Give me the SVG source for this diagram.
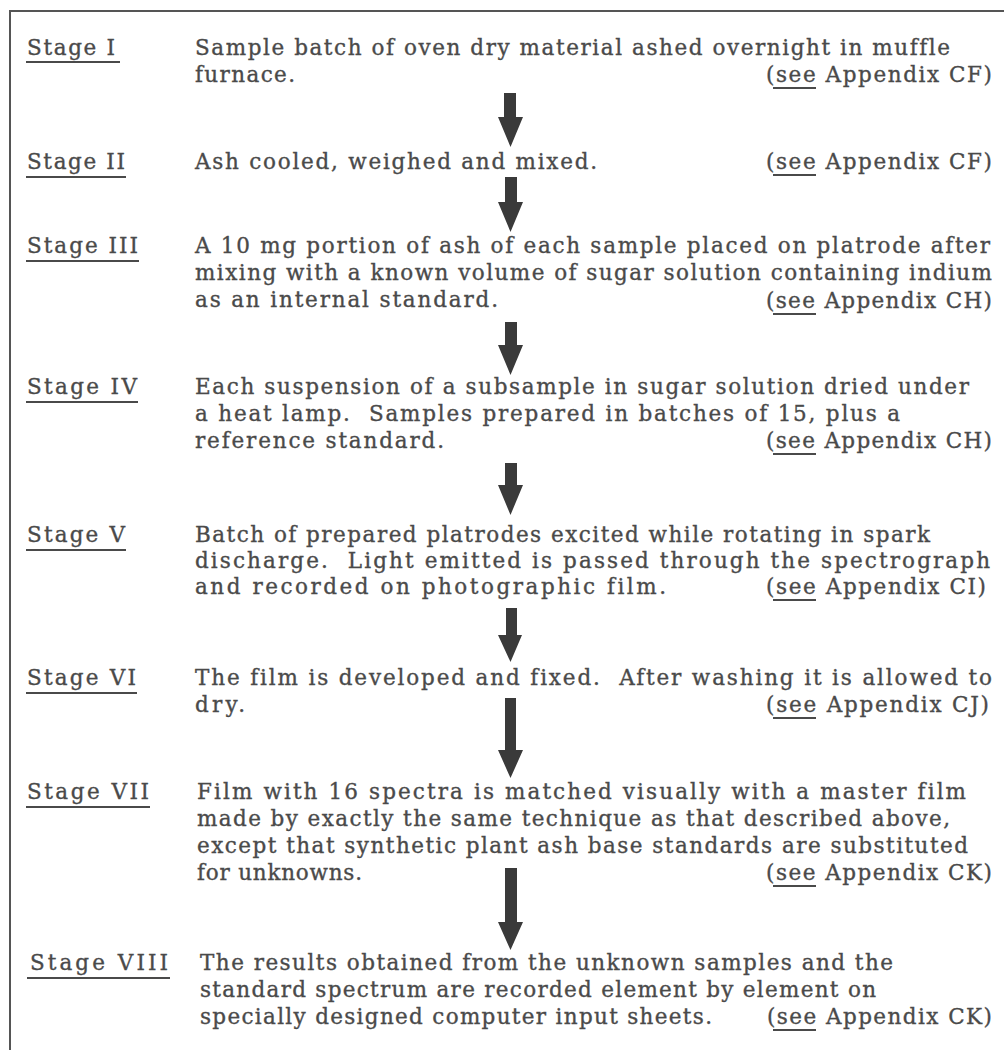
<svg xmlns="http://www.w3.org/2000/svg" width="1004" height="1050" viewBox="0 0 1004 1050">
  <style>
    .t { font-family: "DejaVu Serif", "Liberation Serif", serif; font-size: 21.5px; fill: #4a4a4a; stroke: #4a4a4a; stroke-width: 0.35; font-variant-ligatures: none; white-space: pre; }
    .ul { stroke: #4a4a4a; stroke-width: 2; fill: none; }
    .arrow { fill: #3a3a3a; }
    .frame { stroke: #555; stroke-width: 2; fill: none; }
  </style>

  <rect x="0" y="0" width="1004" height="1050" fill="#ffffff"/>
  <path class="frame" d="M10,1050 V11 H1004"/>

  <!-- Stage I -->
  <g id="stage1">
    <text class="t" x="27" y="55" textLength="88" lengthAdjust="spacing">Stage I</text>
    <line class="ul" x1="26" y1="62" x2="120" y2="62"/>
    <text class="t" x="195" y="55" textLength="755" lengthAdjust="spacing">Sample batch of oven dry material ashed overnight in muffle</text>
    <text class="t" x="195" y="82" textLength="100" lengthAdjust="spacing">furnace.</text>
    <text class="t" x="766" y="82" textLength="226" lengthAdjust="spacing">(see Appendix CF)</text>
    <line class="ul" x1="773" y1="88" x2="816" y2="88"/>
  </g>

  <!-- Stage II -->
  <g id="stage2">
    <text class="t" x="27" y="169" textLength="98" lengthAdjust="spacing">Stage II</text>
    <line class="ul" x1="26" y1="177" x2="126" y2="177"/>
    <text class="t" x="195" y="169" textLength="402" lengthAdjust="spacing">Ash cooled, weighed and mixed.</text>
    <text class="t" x="766" y="169" textLength="226" lengthAdjust="spacing">(see Appendix CF)</text>
    <line class="ul" x1="773" y1="175" x2="816" y2="175"/>
  </g>

  <!-- Stage III -->
  <g id="stage3">
    <text class="t" x="27" y="253" textLength="111" lengthAdjust="spacing">Stage III</text>
    <line class="ul" x1="26" y1="261" x2="139" y2="261"/>
    <text class="t" x="195" y="253" textLength="795" lengthAdjust="spacing">A 10 mg portion of ash of each sample placed on platrode after</text>
    <text class="t" x="195" y="280" textLength="797" lengthAdjust="spacing">mixing with a known volume of sugar solution containing indium</text>
    <text class="t" x="195" y="307" textLength="303" lengthAdjust="spacing">as an internal standard.</text>
    <text class="t" x="766" y="308" textLength="226" lengthAdjust="spacing">(see Appendix CH)</text>
    <line class="ul" x1="773" y1="314" x2="816" y2="314"/>
  </g>

  <!-- Stage IV -->
  <g id="stage4">
    <text class="t" x="27" y="394" textLength="110" lengthAdjust="spacing">Stage IV</text>
    <line class="ul" x1="26" y1="402" x2="138" y2="402"/>
    <text class="t" x="195" y="394" textLength="774" lengthAdjust="spacing">Each suspension of a subsample in sugar solution dried under</text>
    <text class="t" x="195" y="421" textLength="705" lengthAdjust="spacing">a heat lamp.  Samples prepared in batches of 15, plus a</text>
    <text class="t" x="195" y="448" textLength="249" lengthAdjust="spacing">reference standard.</text>
    <text class="t" x="766" y="448" textLength="226" lengthAdjust="spacing">(see Appendix CH)</text>
    <line class="ul" x1="773" y1="454" x2="816" y2="454"/>
  </g>

  <!-- Stage V -->
  <g id="stage5">
    <text class="t" x="27" y="542" textLength="98" lengthAdjust="spacing">Stage V</text>
    <line class="ul" x1="26" y1="550" x2="126" y2="550"/>
    <text class="t" x="195" y="542" textLength="735" lengthAdjust="spacing">Batch of prepared platrodes excited while rotating in spark</text>
    <text class="t" x="195" y="568" textLength="795" lengthAdjust="spacing">discharge.  Light emitted is passed through the spectrograph</text>
    <text class="t" x="195" y="594" textLength="471" lengthAdjust="spacing">and recorded on photographic film.</text>
    <text class="t" x="766" y="594" textLength="220" lengthAdjust="spacing">(see Appendix CI)</text>
    <line class="ul" x1="773" y1="600" x2="816" y2="600"/>
  </g>

  <!-- Stage VI -->
  <g id="stage6">
    <text class="t" x="27" y="685" textLength="109" lengthAdjust="spacing">Stage VI</text>
    <line class="ul" x1="26" y1="693" x2="137" y2="693"/>
    <text class="t" x="195" y="685" textLength="797" lengthAdjust="spacing">The film is developed and fixed.  After washing it is allowed to</text>
    <text class="t" x="195" y="712" textLength="50" lengthAdjust="spacing">dry.</text>
    <text class="t" x="766" y="712" textLength="223" lengthAdjust="spacing">(see Appendix CJ)</text>
    <line class="ul" x1="773" y1="718" x2="816" y2="718"/>
  </g>

  <!-- Stage VII -->
  <g id="stage7">
    <text class="t" x="27" y="799" textLength="122" lengthAdjust="spacing">Stage VII</text>
    <line class="ul" x1="26" y1="807" x2="150" y2="807"/>
    <text class="t" x="197" y="799" textLength="769" lengthAdjust="spacing">Film with 16 spectra is matched visually with a master film</text>
    <text class="t" x="197" y="826" textLength="753" lengthAdjust="spacing">made by exactly the same technique as that described above,</text>
    <text class="t" x="197" y="853" textLength="771" lengthAdjust="spacing">except that synthetic plant ash base standards are substituted</text>
    <text class="t" x="197" y="880" textLength="165" lengthAdjust="spacing">for unknowns.</text>
    <text class="t" x="766" y="880" textLength="226" lengthAdjust="spacing">(see Appendix CK)</text>
    <line class="ul" x1="773" y1="886" x2="816" y2="886"/>
  </g>

  <!-- Stage VIII -->
  <g id="stage8">
    <text class="t" x="30" y="970" textLength="138" lengthAdjust="spacing">Stage VIII</text>
    <line class="ul" x1="27" y1="978" x2="170" y2="978"/>
    <text class="t" x="200" y="970" textLength="693" lengthAdjust="spacing">The results obtained from the unknown samples and the</text>
    <text class="t" x="200" y="997" textLength="676" lengthAdjust="spacing">standard spectrum are recorded element by element on</text>
    <text class="t" x="200" y="1024" textLength="512" lengthAdjust="spacing">specially designed computer input sheets.</text>
    <text class="t" x="767" y="1024" textLength="225" lengthAdjust="spacing">(see Appendix CK)</text>
    <line class="ul" x1="773" y1="1030" x2="816" y2="1030"/>
  </g>

  <!-- Flow arrows between stages -->
  <g id="connectors">
    <path class="arrow" d="M504,93 H516 V117 H523 L510.5,147 L498,117 H504 Z"/>
    <path class="arrow" d="M505,177 H517 V202 H523 L510.5,232 L498,202 H505 Z"/>
    <path class="arrow" d="M505,322 H517 V345 H523 L510.5,375 L498,345 H505 Z"/>
    <path class="arrow" d="M505,463 H517 V485 H523 L510.5,515 L498,485 H505 Z"/>
    <path class="arrow" d="M506,608 H517 V635 H522 L510.5,662 L498,635 H506 Z"/>
    <path class="arrow" d="M505,698 H516 V750 H523 L510.5,778 L498,750 H505 Z"/>
    <path class="arrow" d="M505,868 H517 V922 H523 L510.5,950 L498,922 H505 Z"/>
  </g>
</svg>
